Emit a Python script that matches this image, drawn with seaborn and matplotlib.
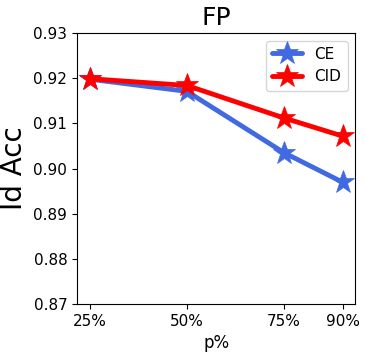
import pandas as pd
import seaborn as sns
import matplotlib
matplotlib.use("Agg")
import matplotlib.pyplot as plt

# data
p = [25, 50, 75, 90]
p_labels = ["25%", "50%", "75%", "90%"]
ce = [0.9198, 0.9171, 0.9035, 0.8970]
cid = [0.9199, 0.9184, 0.9112, 0.9072]
colors = {"CE": "royalblue", "CID": "red"}

df = pd.DataFrame({"p": p * 2,
                   "acc": ce + cid,
                   "method": ["CE"] * 4 + ["CID"] * 4})

sns.set_style("ticks", rc={"axes.edgecolor": "black", "text.color": "black",
                           "axes.labelcolor": "black", "xtick.color": "black",
                           "ytick.color": "black", "axes.linewidth": 1.0})
plt.rcParams['font.family'] = ['DejaVu Sans']

fig = plt.figure(figsize=(3.65, 3.52), dpi=100)
ax = fig.add_axes([0.211, 0.136, 0.762, 0.77])
for name, sub in df.groupby("method"):
    sns.lineplot(data=sub, x="p", y="acc", color=colors[name], label=name,
                 marker="*", markersize=17, markeredgecolor=colors[name],
                 markeredgewidth=0.5, linewidth=3.5, ax=ax)

ax.set_ylim(0.87, 0.93)
ax.set_yticks([0.87, 0.88, 0.89, 0.90, 0.91, 0.92, 0.93])
ax.set_xticks(p)
ax.set_xticklabels(p_labels)
ax.tick_params(labelsize=11)
ax.set_xlabel("p%", fontsize=12)
ax.set_ylabel("Id Acc", fontsize=20)
ax.set_title("FP", fontsize=18)
ax.legend(fontsize=11, loc="upper right")

fig.savefig("out.png", dpi=100)
